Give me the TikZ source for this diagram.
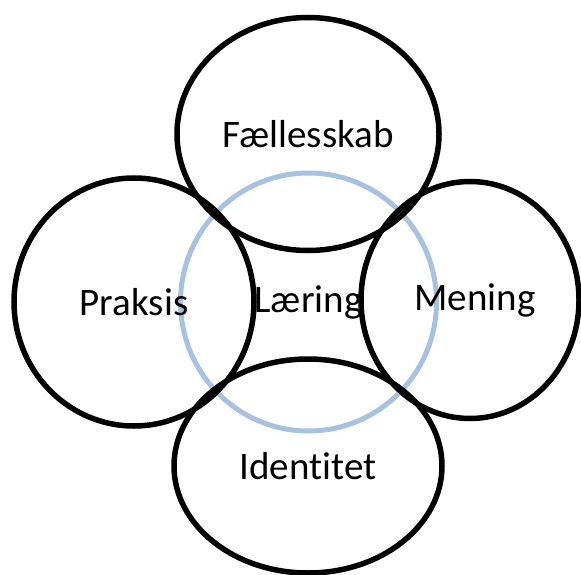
\documentclass[tikz,border=0pt]{standalone}
\usepackage{fontspec}
\setmainfont{Carlito}[Ligatures=CommonOff]
\usetikzlibrary{shapes.geometric,positioning}
\definecolor{softblue}{RGB}{167,193,224}
\begin{document}
\begin{tikzpicture}[x=1pt, y=-1pt]
    % Define styles
    \tikzstyle{ring} = [ellipse, draw=black, line width=5.5pt, inner sep=0pt, font=\fontsize{39}{47}\selectfont]
    \tikzstyle{core} = [ellipse, draw=softblue, line width=5pt, inner sep=0pt, font=\fontsize{39}{47}\selectfont]
    \useasboundingbox (0,0) rectangle (581,575);

    % Draw the middle circle
    \node[core, minimum width=256pt, minimum height=258pt] (laering) at (308.5,302) {Læring};

    % Draw the four outer circles
    \node[ring, minimum width=262pt, minimum height=233pt] (faelles) at (308,134) {Fællesskab};
    \node[ring, minimum width=240pt, minimum height=248pt] (praksis) at (134,302) {Praksis};
    \node[ring, minimum width=218pt, minimum height=237pt] (mening) at (470,300) {\hspace{10pt}Mening};
    \node[ring, minimum width=268pt, minimum height=214pt] (identitet) at (308,466) {Identitet};
\end{tikzpicture}
\end{document}
